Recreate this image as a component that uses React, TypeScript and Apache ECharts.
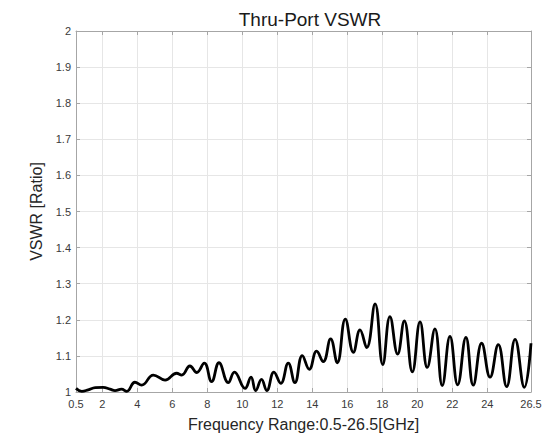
import React, { useEffect, useRef } from "react";
import * as echarts from "echarts";

const titleText = "Thru-Port VSWR";
const xName = "Frequency Range:0.5-26.5[GHz]";
const yName = "VSWR [Ratio]";

const xTicks = [0.5, 2, 4, 6, 8, 10, 12, 14, 16, 18, 20, 22, 24, 26.5];

const freqs = [
  0.5, 0.83, 1.2, 1.6, 2.05, 2.44, 2.73, 3.1, 3.4, 3.87, 4.25, 4.92, 5.59, 6.25,
  6.54, 7.01, 7.4, 7.83, 8.25, 8.67, 9.2, 9.55, 10.16, 10.5, 10.77, 11.1, 11.4,
  11.81, 12.2, 12.63, 13.01, 13.43, 13.83, 14.25, 14.63, 15.05, 15.43, 15.89,
  16.35, 16.73, 17.11, 17.59, 18.03, 18.44, 18.88, 19.26, 19.72, 20.16, 20.57,
  21.01, 21.43, 21.87, 22.31, 22.78, 23.2, 23.68, 24.16, 24.63, 25.11, 25.59,
  26.12, 26.5,
];

const vswr = [
  1.01, 1.002, 1.006, 1.012, 1.013, 1.008, 1.004, 1.008, 1.002, 1.027, 1.019,
  1.047, 1.033, 1.052, 1.047, 1.072, 1.054, 1.08, 1.029, 1.081, 1.026, 1.055,
  1.01, 1.041, 1.004, 1.035, 1.004, 1.055, 1.024, 1.08, 1.026, 1.101, 1.063,
  1.113, 1.084, 1.147, 1.081, 1.202, 1.11, 1.172, 1.123, 1.244, 1.076, 1.209,
  1.105, 1.197, 1.056, 1.194, 1.068, 1.175, 1.018, 1.154, 1.02, 1.151, 1.019,
  1.135, 1.041, 1.131, 1.015, 1.146, 1.013, 1.135,
];

export default function App() {
  const ref = useRef<HTMLDivElement>(null);
  useEffect(() => {
    document.body.style.margin = "0";
    const chart = echarts.init(ref.current!, null, { renderer: "svg" });
    const font = "'Liberation Sans', Arial, Helvetica, sans-serif";
    const axisLineColor = "#a6a6a6";
    const labelColor = "#3a3a3a";
    const data = freqs.map((f, i) => [f, vswr[i]]);
    chart.setOption({
      animation: false,
      backgroundColor: "#ffffff",
      textStyle: { fontFamily: font },
      title: {
        text: titleText,
        left: 305,
        top: 5,
        textAlign: "center",
        textStyle: { fontSize: 19, fontWeight: "normal", color: "#1a1a1a", fontFamily: font },
      },
      grid: { left: 76, right: 14, top: 31, bottom: 46, containLabel: false },
      xAxis: [
        {
          type: "value",
          min: 0.5,
          max: 26.5,
          position: "bottom",
          name: xName,
          nameLocation: "middle",
          nameGap: 24,
          nameTextStyle: { fontSize: 16, color: "#262626", fontFamily: font },
          axisLine: { show: true, lineStyle: { color: axisLineColor, width: 1 } },
          axisTick: { show: true, inside: true, length: 4, customValues: xTicks, lineStyle: { color: axisLineColor } },
          axisLabel: {
            customValues: xTicks,
            fontSize: 11,
            color: labelColor,
            margin: 6,
            formatter: (v: number) => String(v),
          },
          splitLine: { show: true, lineStyle: { color: "#e6e6e6", width: 1 } },
        },
        {
          type: "value",
          min: 0.5,
          max: 26.5,
          position: "top",
          axisLine: { show: true, lineStyle: { color: axisLineColor, width: 1 } },
          axisTick: { show: true, inside: true, length: 4, customValues: xTicks, lineStyle: { color: axisLineColor } },
          axisLabel: { show: false },
          splitLine: { show: false },
        },
      ],
      yAxis: [
        {
          type: "value",
          min: 1,
          max: 2,
          interval: 0.1,
          position: "left",
          name: yName,
          nameLocation: "middle",
          nameGap: 26,
          nameTextStyle: { fontSize: 16, color: "#262626", fontFamily: font },
          axisLine: { show: true, lineStyle: { color: axisLineColor, width: 1 } },
          axisTick: { show: true, inside: true, length: 4, lineStyle: { color: axisLineColor } },
          axisLabel: {
            fontSize: 11,
            color: labelColor,
            margin: 5,
            formatter: (v: number) => String(Math.round(v * 10) / 10),
          },
          splitLine: { show: true, lineStyle: { color: "#e6e6e6", width: 1 } },
        },
        {
          type: "value",
          min: 1,
          max: 2,
          interval: 0.1,
          position: "right",
          axisLine: { show: true, lineStyle: { color: axisLineColor, width: 1 } },
          axisTick: { show: true, inside: true, length: 4, lineStyle: { color: axisLineColor } },
          axisLabel: { show: false },
          splitLine: { show: false },
        },
      ],
      series: [
        {
          type: "line",
          data,
          xAxisIndex: 0,
          yAxisIndex: 0,
          smooth: 0.45,
          showSymbol: false,
          lineStyle: { color: "#000000", width: 2.8 },
          z: 5,
        },
      ],
    });
    return () => chart.dispose();
  }, []);
  return <div ref={ref} style={{ width: 545, height: 438 }} />;
}
